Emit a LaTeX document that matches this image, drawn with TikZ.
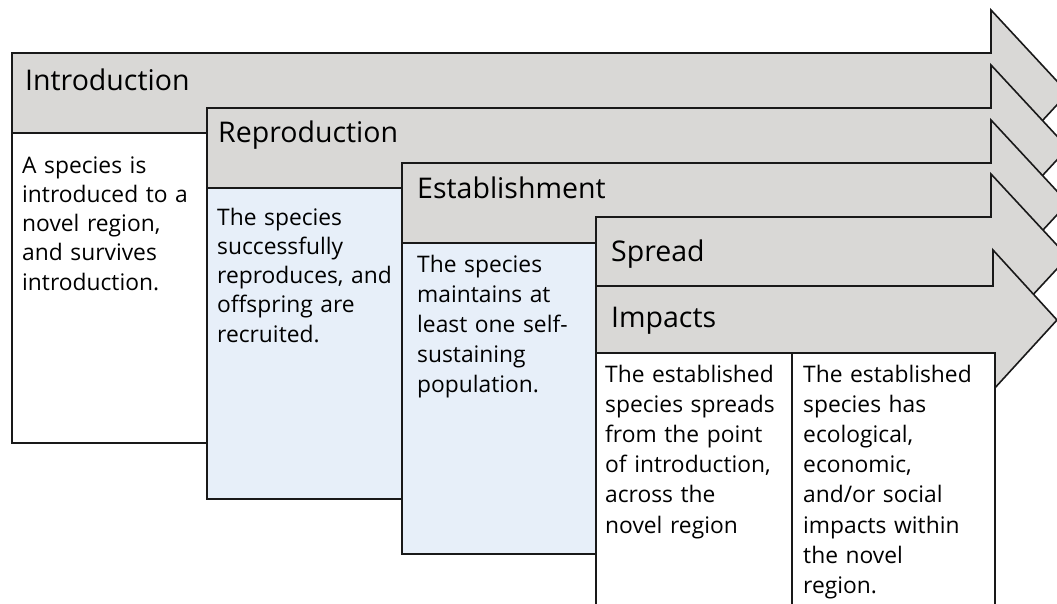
\documentclass[tikz,border=0pt]{standalone}
\usepackage{fontspec}
\setmainfont{Open Sans}
\definecolor{arrowgray}{RGB}{217,216,214}
\definecolor{paleblue}{RGB}{231,239,249}
\tikzset{
  stageline/.style={draw=black!90, line width=1.6pt, line join=miter},
  headfill/.style={stageline, fill=arrowgray},
  whitebox/.style={stageline, fill=white},
  bluebox/.style={stageline, fill=paleblue},
  titletext/.style={anchor=base west, inner sep=0pt, font={\fontsize{28.5}{32}\selectfont}},
  bodytext/.style={anchor=base west, inner sep=0pt, text width=190pt, align=left, font={\fontsize{22.8}{29.3}\selectfont}},
  bodywide/.style={bodytext, font={\fontsize{22.8}{30.2}\selectfont}}
}
\begin{document}
\begin{tikzpicture}[x=1pt,y=-1pt]
\useasboundingbox (0,0) rectangle (1057,603);
\clip (0,0) rectangle (1057,603);
% Introduction
\draw[headfill] (12,53) -- (991,53) -- (991,10) -- (1068,93) -- (991,176) -- (991,133) -- (12,133) -- cycle;
\draw[whitebox] (12,133) rectangle (207,443);
\node[titletext] (introT) at (25,90) {Introduction};
\node[bodytext] (introB) at (22,173) {A species is\\introduced to a\\novel region,\\and survives\\introduction.};
% Reproduction
\draw[headfill] (207,108) -- (991,108) -- (991,65) -- (1068,148) -- (991,231) -- (991,188) -- (207,188) -- cycle;
\draw[bluebox] (207,188) rectangle (402,499);
\node[titletext] (reproT) at (218,142) {Reproduction};
\node[bodytext] (reproB) at (217,225) {The species\\successfully\\reproduces, and\\offspring are\\recruited.};
% Establishment
\draw[headfill] (402,163) -- (991,163) -- (991,120) -- (1068,203) -- (991,286) -- (991,243) -- (402,243) -- cycle;
\draw[bluebox] (402,243) rectangle (596,554);
\node[titletext] (estabT) at (417,198) {Establishment};
\node[bodywide] (estabB) at (417,272) {The species\\maintains at\\least one self-\\sustaining\\population.};
% Spread
\draw[headfill] (596,217) -- (991,217) -- (991,174) -- (1068,257) -- (991,340) -- (991,297) -- (596,297) -- cycle;
\node[titletext] (spreadT) at (611,261) {Spread};
% Impacts
\draw[headfill] (596,286) -- (993,286) -- (993,250) -- (1057,320) -- (993,390) -- (993,353) -- (596,353) -- cycle;
\node[titletext] (impactsT) at (611,327) {Impacts};
% lower text boxes
\draw[whitebox] (596,353) rectangle (792,615);
\draw[whitebox] (792,353) rectangle (995,615);
\node[bodywide] (spreadB) at (605,382) {The established\\species spreads\\from the point\\of introduction,\\across the\\novel region};
\node[bodywide] (impactsB) at (803,382) {The established\\species has\\ecological,\\economic,\\and/or social\\impacts within\\the novel\\region.};
\end{tikzpicture}
\end{document}
